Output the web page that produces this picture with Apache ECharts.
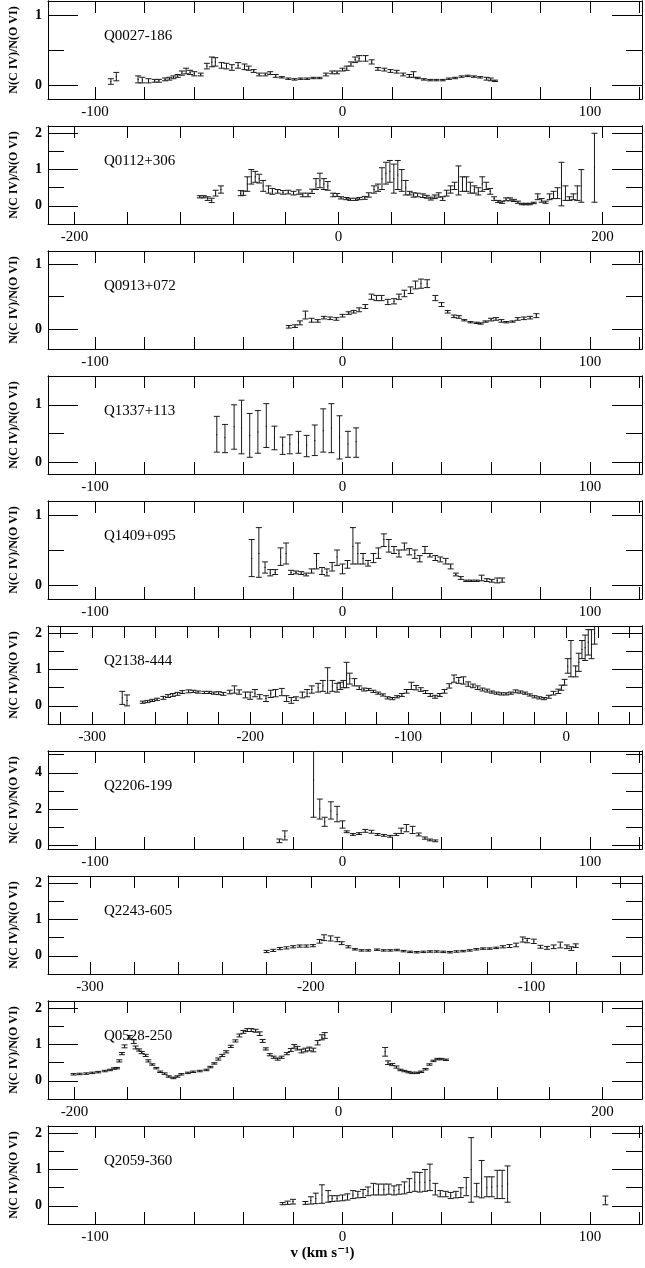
<!DOCTYPE html>
<html lang="en">
<head>
<meta charset="UTF-8">
<title>N(C IV)/N(O VI)</title>
<script src="https://cdn.jsdelivr.net/npm/echarts@6/dist/echarts.min.js"></script>
<style>
  html, body { margin: 0; padding: 0; background: #fff; }
  #chart { width: 645px; height: 1268px; }
</style>
</head>
<body>
<div id="chart"></div>
<script>
// each point: [v, ratio, err] or [v, ratio, low, high]
var q0027 = [
  [-93.6,0.05,0.04],[-91.4,0.12,0.06],[-82.6,0.08,0.05],[-80.9,0.07,0.04],[-78.4,0.06,0.03],[-75.9,0.06,0.02],
  [-74.2,0.06,0.02],[-71.7,0.08,0.02],[-70,0.09,0.02],[-68.3,0.11,0.02],[-66.6,0.13,0.02],[-64.9,0.17,0.03],
  [-63.2,0.2,0.04],[-61.6,0.18,0.03],[-59.9,0.16,0.03],[-57.3,0.15,0.02],[-54.8,0.27,0.04],[-52.8,0.33,0.07],
  [-51.4,0.33,0.06],[-48.9,0.28,0.04],[-46.9,0.27,0.04],[-44.7,0.25,0.04],[-42.2,0.28,0.04],[-39.6,0.26,0.04],
  [-37.9,0.24,0.03],[-35.9,0.2,0.02],[-33.7,0.15,0.02],[-31.2,0.15,0.02],[-29.2,0.17,0.02],[-27,0.13,0.02],
  [-24.5,0.11,0.01],[-21.9,0.09,0.01],[-19.4,0.08,0.01],[-16.9,0.09,0.01],[-14.3,0.09,0.01],[-11.8,0.1,0.01],
  [-9.3,0.1,0.01],[-6.7,0.15,0.02],[-4.2,0.18,0.02],[-2.2,0.18,0.02],[0,0.22,0.02],[1.7,0.24,0.03],
  [3.4,0.3,0.03],[5.1,0.36,0.04],[6.7,0.38,0.04],[9.3,0.38,0.04],[11.8,0.33,0.03],[14.3,0.23,0.02],
  [16.9,0.22,0.02],[19.4,0.2,0.02],[21.9,0.19,0.02],[24.5,0.15,0.02],[27,0.13,0.02],[28.7,0.15,0.04],
  [30.4,0.1,0.01],[32.9,0.08,0.01],[35.4,0.07,0.01],[37.9,0.07,0.01],[40.5,0.07,0.01],[43,0.09,0.01],
  [45.5,0.1,0.01],[48.1,0.12,0.01],[50.6,0.13,0.01],[53.1,0.12,0.01],[55.6,0.11,0.01],[58.2,0.09,0.02],
  [59.9,0.08,0.02],[61.6,0.06,0.01]
];
var q0112 = [
  [-105,0.25,0.03],[-102,0.25,0.03],[-99,0.2,0.05],[-96,0.15,0.06],[-93,0.35,0.08],[-89,0.45,0.1],
  [-74,0.35,0.07],[-72,0.35,0.06],[-69,0.6,0.2],[-66,0.8,0.2],[-63,0.8,0.15],[-60,0.75,0.12],[-57,0.55,0.15],
  [-53,0.45,0.1],[-50,0.4,0.08],[-46,0.4,0.05],[-42,0.37,0.05],[-38,0.38,0.05],[-34,0.35,0.05],[-30,0.38,0.06],
  [-27,0.3,0.05],[-23,0.3,0.05],[-20,0.4,0.06],[-17,0.6,0.15],[-14,0.7,0.2],[-11,0.6,0.15],[-8,0.55,0.12],
  [-4,0.3,0.05],[-1,0.3,0.04],[2,0.22,0.03],[6,0.2,0.03],[9,0.18,0.03],[13,0.18,0.03],[16,0.2,0.03],
  [20,0.22,0.04],[23,0.3,0.06],[27,0.45,0.1],[30,0.5,0.1],[33,0.75,0.3],[36,0.9,0.3],[39,0.95,0.3],
  [42,0.75,0.4],[45,0.85,0.4],[48,0.7,0.3],[51,0.5,0.2],[54,0.35,0.05],[57,0.3,0.06],[60,0.3,0.05],
  [64,0.28,0.05],[67,0.25,0.04],[70,0.2,0.04],[73,0.25,0.05],[76,0.3,0.06],[79,0.2,0.05],[82,0.35,0.08],
  [85,0.45,0.1],[88,0.55,0.1],[91,0.7,0.4],[94,0.6,0.2],[97,0.6,0.2],[100,0.5,0.15],[103,0.45,0.1],
  [106,0.4,0.1],[109,0.6,0.2],[112,0.55,0.1],[115,0.4,0.08],[118,0.2,0.05],[121,0.12,0.03],[124,0.1,0.03],
  [127,0.18,0.04],[130,0.18,0.04],[133,0.15,0.03],[136,0.1,0.03],[139,0.05,0.02],[142,0.05,0.02],
  [145,0.05,0.02],[148,0.08,0.02],[151,0.25,0.08],[154,0.15,0.05],[157,0.1,0.03],[160,0.25,0.08],
  [163,0.3,0.1],[166,0.35,0.15],[169,0.6,0.6],[172,0.35,0.2],[175,0.2,0.05],[178,0.25,0.08],
  [181,0.35,0.2],[184,0.55,0.45],[194,1.05,0.95]
];
var q0913 = [
  [-21.7,0.04,0.02],[-19.2,0.05,0.02],[-17.2,0.1,0.03],[-15,0.22,0.06],[-12.5,0.14,0.03],[-10,0.13,0.02],
  [-7.5,0.18,0.02],[-5,0.17,0.02],[-2.5,0.16,0.02],[0,0.21,0.02],[2.5,0.25,0.02],[4.5,0.27,0.02],
  [6.7,0.3,0.03],[9.2,0.35,0.03],[11.7,0.5,0.04],[13.7,0.48,0.04],[15.8,0.48,0.04],[18.3,0.42,0.04],
  [20.8,0.43,0.04],[22.8,0.5,0.04],[25,0.55,0.05],[27.5,0.6,0.05],[29.5,0.68,0.06],[31.7,0.7,0.07],
  [34.2,0.7,0.06],[37.5,0.48,0.04],[40,0.38,0.03],[42.5,0.27,0.02],[45,0.2,0.02],[47,0.19,0.02],
  [49.2,0.14,0.01],[51.7,0.11,0.01],[54.2,0.1,0.01],[55.8,0.09,0.01],[57.8,0.12,0.01],[60,0.15,0.02],
  [62,0.16,0.02],[64.2,0.13,0.02],[66.2,0.11,0.01],[68.7,0.12,0.01],[70.8,0.16,0.02],[73.3,0.17,0.02],
  [75.8,0.18,0.02],[78.3,0.21,0.03]
];
var q1337 = [
  [-50.8,0.48,0.18,0.8],[-47.5,0.43,0.17,0.66],[-43.8,0.62,0.23,1.0],[-40.8,0.6,0.15,1.08],
  [-37.5,0.47,0.09,0.85],[-34.2,0.53,0.16,0.9],[-30.8,0.63,0.26,1.02],[-27.5,0.43,0.22,0.63],
  [-24.2,0.3,0.14,0.44],[-21.3,0.32,0.15,0.48],[-17.8,0.35,0.16,0.54],[-14.5,0.3,0.1,0.47],
  [-11.2,0.38,0.12,0.65],[-7.8,0.55,0.18,0.93],[-4.5,0.6,0.17,1.02],[-1.2,0.44,0.06,0.81],
  [2.2,0.32,0.09,0.54],[5.5,0.36,0.09,0.6]
];
var q1409 = [
  [-36.7,0.38,0.12,0.65],[-33.8,0.45,0.11,0.82],[-31.3,0.25,0.17,0.33],[-29.2,0.17,0.13,0.22],
  [-27.2,0.18,0.15,0.22],[-25,0.4,0.28,0.53],[-22.8,0.45,0.3,0.6],[-20.8,0.18,0.15,0.21],[-18.8,0.18,0.02],
  [-16.7,0.17,0.02],[-14.7,0.15,0.02],[-12.5,0.2,0.03],[-10.5,0.35,0.23,0.45],[-8.3,0.2,0.15,0.25],
  [-6.3,0.18,0.13,0.23],[-4.2,0.26,0.2,0.32],[-2.2,0.4,0.28,0.5],[0,0.22,0.16,0.3],[2,0.3,0.24,0.35],
  [4.2,0.55,0.3,0.82],[6.2,0.45,0.3,0.6],[8.3,0.38,0.3,0.45],[10.3,0.3,0.27,0.35],[12.5,0.37,0.32,0.45],
  [14.5,0.45,0.38,0.53],[16.7,0.65,0.55,0.73],[18.7,0.55,0.47,0.65],[20.8,0.5,0.45,0.55],[22.8,0.45,0.4,0.5],
  [25,0.55,0.5,0.6],[27,0.5,0.43,0.52],[29.2,0.45,0.38,0.5],[31.2,0.38,0.33,0.42],[33.3,0.5,0.45,0.55],
  [35.3,0.42,0.4,0.45],[37.5,0.38,0.35,0.42],[39.5,0.37,0.33,0.4],[41.7,0.35,0.3,0.38],[43.7,0.27,0.23,0.3],
  [45.8,0.15,0.13,0.17],[47.8,0.1,0.02],[50,0.06,0.01],[52,0.06,0.01],[54.2,0.06,0.01],
  [56.2,0.1,0.06,0.14],[58.3,0.07,0.02],[60.3,0.06,0.02],[62.5,0.06,0.03,0.1],[64.5,0.07,0.03]
];
var q2138 = [
  [-281,0.22,0.18],[-278,0.15,0.15],
  [-268,0.1,0.03],[-265,0.12,0.03],[-262,0.15,0.03],[-259,0.18,0.03],[-255,0.22,0.04],[-252,0.27,0.04],
  [-249,0.3,0.04],[-246,0.33,0.04],[-243,0.38,0.04],[-239,0.4,0.04],[-236,0.4,0.03],[-233,0.38,0.03],
  [-229,0.37,0.03],[-226,0.37,0.03],[-223,0.35,0.03],[-220,0.35,0.04],[-217,0.33,0.04],[-213,0.38,0.05],
  [-210,0.45,0.1],[-207,0.38,0.06],[-203,0.3,0.08],[-200,0.28,0.1],[-197,0.35,0.1],[-194,0.25,0.06],
  [-190,0.2,0.08],[-187,0.33,0.1],[-184,0.35,0.1],[-180,0.38,0.1],[-177,0.2,0.08],[-174,0.15,0.08],
  [-171,0.2,0.05],[-167,0.3,0.08],[-164,0.35,0.1],[-161,0.45,0.1],[-157,0.5,0.12],[-154,0.55,0.15],
  [-151,0.7,0.35],[-148,0.55,0.15],[-145,0.5,0.12],[-143,0.55,0.1],[-141,0.6,0.1],[-139,0.85,0.35],
  [-137,0.75,0.15],[-134,0.65,0.1],[-131,0.5,0.05],[-128,0.45,0.04],[-125,0.45,0.03],[-122,0.4,0.03],
  [-119,0.35,0.03],[-116,0.3,0.03],[-113,0.22,0.03],[-110,0.2,0.03],[-107,0.25,0.03],[-104,0.3,0.04],
  [-101,0.4,0.05],[-98,0.55,0.1],[-95,0.5,0.06],[-92,0.45,0.05],[-89,0.38,0.04],[-86,0.3,0.04],
  [-83,0.25,0.04],[-80,0.3,0.04],[-77,0.4,0.05],[-74,0.55,0.06],[-71,0.75,0.1],[-68,0.7,0.08],
  [-65,0.7,0.1],[-62,0.6,0.06],[-59,0.55,0.05],[-56,0.5,0.05],[-53,0.45,0.04],[-50,0.42,0.04],
  [-47,0.38,0.03],[-44,0.35,0.03],[-41,0.33,0.03],[-38,0.33,0.03],[-35,0.35,0.03],[-32,0.4,0.04],
  [-29,0.38,0.03],[-26,0.35,0.03],[-23,0.3,0.03],[-20,0.25,0.03],[-17,0.22,0.03],[-14,0.2,0.03],
  [-11,0.25,0.04],[-8,0.35,0.05],[-5,0.4,0.06],[-3,0.5,0.07],[-1,0.65,0.08],[1,1.1,0.2],[3,1.3,0.5],
  [6,0.95,0.15],[8,1.2,0.25],[10,1.55,0.25],[12,1.6,0.35],[14,1.75,0.35],[16,1.7,0.4],[18,2.0,0.3]
];
var q2206 = [
  [-25.5,0.25,0.15,0.35],[-23.3,0.5,0.3,0.8],[-11.7,3.6,1.55,5.6],[-9.2,2.0,1.45,2.55],
  [-7.2,1.3,1.05,1.55],[-4.7,1.9,1.45,2.4],[-2.2,1.7,1.3,2.15],[0,1.1,0.95,1.35],[1.7,0.75,0.7,0.8],
  [4.2,0.6,0.05],[6.7,0.65,0.05],[9.2,0.8,0.08],[11.7,0.75,0.08],[14.2,0.6,0.05],[16.7,0.55,0.05],
  [19.2,0.5,0.05],[21.7,0.6,0.06],[23.7,0.8,0.65,0.95],[25.8,0.95,0.75,1.15],[28.3,0.85,0.65,1.05],
  [30.8,0.6,0.08],[33.3,0.4,0.06],[35.3,0.3,0.05],[37.5,0.25,0.05]
];
var q2243 = [
  [-220,0.12,0.03],[-217,0.15,0.03],[-214,0.2,0.03],[-211,0.22,0.03],[-208,0.25,0.03],[-205,0.27,0.03],
  [-202,0.27,0.03],[-199,0.28,0.03],[-196,0.4,0.05],[-194,0.5,0.08],[-191,0.48,0.07],[-188,0.45,0.06],
  [-186,0.35,0.04],[-183,0.25,0.03],[-180,0.18,0.02],[-177,0.15,0.02],[-174,0.15,0.02],[-170,0.17,0.02],
  [-167,0.15,0.02],[-164,0.15,0.02],[-161,0.16,0.02],[-158,0.13,0.02],[-155,0.11,0.02],[-152,0.1,0.02],
  [-149,0.11,0.02],[-146,0.12,0.02],[-143,0.12,0.02],[-140,0.11,0.02],[-137,0.1,0.02],[-134,0.12,0.02],
  [-131,0.13,0.02],[-128,0.15,0.02],[-125,0.18,0.02],[-122,0.2,0.02],[-119,0.2,0.02],[-116,0.22,0.02],
  [-113,0.25,0.03],[-110,0.27,0.04],[-107,0.3,0.05],[-104,0.45,0.07],[-102,0.42,0.06],[-99,0.4,0.06],
  [-96,0.25,0.04],[-93,0.22,0.04],[-90,0.25,0.05],[-87,0.3,0.08],[-84,0.25,0.05],[-82,0.2,0.05],[-80,0.28,0.05]
];
var q0528 = [
  [-200.6,0.18,0.02],[-196,0.19,0.02],[-191,0.2,0.02],[-186.5,0.22,0.02],[-182,0.24,0.02],[-177,0.27,0.02],
  [-173,0.3,0.02],[-170,0.34,0.02],[-167.7,0.35,0.02],[-166,0.55,0.03],[-164,0.75,0.03],[-162,0.95,0.04],
  [-158,1.2,0.05],[-155,1.08,0.05],[-153.6,0.92,0.04],[-151,0.85,0.03],[-149,0.78,0.03],[-146,0.7,0.03],
  [-144,0.55,0.03],[-141,0.45,0.02],[-138,0.35,0.02],[-135,0.25,0.02],[-131.7,0.2,0.02],[-128.5,0.12,0.02],
  [-125,0.08,0.02],[-122,0.12,0.02],[-119,0.18,0.02],[-114,0.22,0.02],[-110,0.25,0.02],[-105,0.27,0.02],
  [-100,0.3,0.02],[-97,0.38,0.02],[-94,0.48,0.02],[-91,0.6,0.03],[-88,0.7,0.03],[-85,0.8,0.03],
  [-81.5,0.95,0.03],[-78,1.1,0.03],[-75,1.25,0.04],[-72,1.35,0.04],[-69,1.4,0.04],[-66,1.4,0.04],
  [-62.7,1.38,0.04],[-59.6,1.3,0.05],[-57.4,1.1,0.04],[-55,0.88,0.03],[-52,0.72,0.03],[-49,0.65,0.03],
  [-46,0.6,0.03],[-43,0.65,0.03],[-39,0.75,0.03],[-36,0.85,0.04],[-33.5,0.95,0.05],[-31,0.9,0.05],
  [-28,0.82,0.05],[-25,0.85,0.05],[-22,0.88,0.05],[-19,0.85,0.05],[-15.7,1.05,0.06],[-12.5,1.2,0.07],
  [-10.3,1.25,0.08],
  [35.4,0.8,0.12],[37.6,0.5,0.05],[40.8,0.45,0.03],[44,0.38,0.03],[47,0.3,0.02],[50,0.27,0.02],
  [53,0.24,0.02],[56,0.22,0.02],[59.6,0.22,0.02],[62.7,0.25,0.02],[66,0.32,0.02],[69,0.45,0.02],
  [72,0.55,0.02],[75,0.6,0.02],[78,0.6,0.02],[81.5,0.58,0.02]
];
var q2059 = [
  [-24.2,0.05,0.03,0.09],[-22.2,0.08,0.04,0.13],[-20,0.12,0.05,0.18],[-15,0.08,0.04,0.12],
  [-12.8,0.15,0.05,0.25],[-10.8,0.2,0.06,0.35],[-8.3,0.3,0.07,0.58],[-5.8,0.25,0.1,0.42],
  [-4.2,0.2,0.12,0.28],[-2.2,0.2,0.13,0.28],[0,0.22,0.14,0.3],[2,0.25,0.16,0.33],[4.2,0.3,0.2,0.42],
  [6.2,0.32,0.22,0.4],[8.3,0.33,0.23,0.45],[10.3,0.4,0.28,0.52],[12.5,0.45,0.3,0.62],[14.5,0.45,0.3,0.6],
  [16.7,0.45,0.3,0.6],[18.7,0.47,0.32,0.6],[20.8,0.42,0.3,0.55],[22.8,0.45,0.32,0.58],[25,0.5,0.33,0.66],
  [27,0.55,0.37,0.75],[29.2,0.65,0.4,0.93],[31.2,0.65,0.38,0.92],[33.3,0.65,0.4,1.0],[35.3,0.7,0.42,1.15],
  [37.5,0.4,0.3,0.62],[39.5,0.33,0.25,0.42],[41.7,0.32,0.25,0.4],[43.7,0.28,0.2,0.37],[45.8,0.3,0.22,0.4],
  [47.8,0.35,0.23,0.5],[50,0.5,0.28,0.78],[52,1.0,0.1,1.88],[54.2,0.4,0.25,0.62],[56.2,0.75,0.22,1.25],
  [58.3,0.5,0.25,0.8],[60.3,0.52,0.25,0.8],[62.5,0.55,0.2,0.98],[64.5,0.55,0.2,0.98],[66.7,0.6,0.1,1.1],
  [106.2,0.15,0.03,0.27]
];

var names = ['Q0027-186','Q0112+306','Q0913+072','Q1337+113','Q1409+095','Q2138-444','Q2206-199','Q2243-605','Q0528-250','Q2059-360'];
var sets = [q0027, q0112, q0913, q1337, q1409, q2138, q2206, q2243, q0528, q2059];
var xRanges = [[-119,121],[-220,230],[-119,121],[-119,121],[-119,121],[-328,48],[-119,121],[-319,-50],[-220,230],[-119,121]];
var xLabelTicks = [[-100,0,100],[-200,0,200],[-100,0,100],[-100,0,100],[-100,0,100],[-300,-200,-100,0],[-100,0,100],[-300,-200,-100],[-200,0,200],[-100,0,100]];
var xTickStep = [20,40,20,20,20,20,20,20,40,20];
var yRanges = [[-0.2,1.2],[-0.5,2.2],[-0.3,1.2],[-0.2,1.5],[-0.2,1.2],[-0.5,2.2],[-0.2,5.2],[-0.5,2.2],[-0.5,2.2],[-0.5,2.2]];
var yMajor = [[0,1],[0,1,2],[0,1],[0,1],[0,1],[0,1,2],[0,2,4],[0,1,2],[0,1,2],[0,1,2]];
var yMinor = [[0.5],[0.5,1.5],[0.5],[0.5],[0.5],[0.5,1.5],[1,3,5],[0.5,1.5],[0.5,1.5],[0.5,1.5]];

var FONT = '"Liberation Serif", "DejaVu Serif", serif';
var grids = [], xAxes = [], yAxes = [], series = [], graphics = [];

function stepTicks(range, step) {
  var out = [];
  for (var v = Math.ceil(range[0] / step) * step; v <= range[1]; v += step) out.push(v);
  return out;
}

function xAxisOf(i, pos, withLabels) {
  return {
    gridIndex: i, type: 'value', position: pos,
    min: xRanges[i][0], max: xRanges[i][1],
    splitLine: { show: false },
    axisLine: { show: true, onZero: false, lineStyle: { color: '#000', width: 1 } },
    axisTick: { show: true, inside: true, length: 12, customValues: stepTicks(xRanges[i], xTickStep[i]), lineStyle: { color: '#000' } },
    axisLabel: withLabels
      ? { customValues: xLabelTicks[i].slice(), color: '#000', fontFamily: FONT, fontSize: 15, margin: 6 }
      : { show: false }
  };
}

function yAxisOf(i, pos, ticks, len) {
  return {
    gridIndex: i, type: 'value', position: pos,
    min: yRanges[i][0], max: yRanges[i][1],
    splitLine: { show: false },
    axisLine: { show: true, onZero: false, lineStyle: { color: '#000', width: 1 } },
    axisTick: { show: true, inside: true, length: len, customValues: ticks.slice(), lineStyle: { color: '#000' } },
    axisLabel: { show: false }
  };
}

function renderBar(params, api) {
  var x = api.value(0);
  var c = api.coord([x, api.value(1)]);
  var lo = api.coord([x, api.value(2)]);
  var hi = api.coord([x, api.value(3)]);
  var w = 3;
  return {
    type: 'group',
    children: [
      { type: 'line', shape: { x1: lo[0], y1: lo[1], x2: hi[0], y2: hi[1] }, style: { stroke: '#1a1a1a', lineWidth: 1 } },
      { type: 'line', shape: { x1: lo[0] - w, y1: lo[1], x2: lo[0] + w, y2: lo[1] }, style: { stroke: '#1a1a1a', lineWidth: 1 } },
      { type: 'line', shape: { x1: hi[0] - w, y1: hi[1], x2: hi[0] + w, y2: hi[1] }, style: { stroke: '#1a1a1a', lineWidth: 1 } },
      { type: 'rect', shape: { x: c[0] - 0.5, y: c[1] - 0.5, width: 1, height: 1 }, style: { fill: '#000' } }
    ]
  };
}

for (var i = 0; i < sets.length; i++) {
  var panelTop = 1 + 125 * i;
  grids.push({ left: 47, right: 3, top: panelTop, height: 98 });
  xAxes.push(xAxisOf(i, 'bottom', true));
  xAxes.push(xAxisOf(i, 'top', false));

  var yFirst = yAxes.length;
  var yl = yAxisOf(i, 'left', yMajor[i], 30);
  yl.axisLabel = { customValues: yMajor[i].slice(), color: '#000', fontFamily: FONT, fontSize: 14, fontWeight: 'bold', margin: 6 };
  yl.name = 'N(C IV)/N(O VI)';
  yl.nameLocation = 'middle';
  yl.nameRotate = 90;
  yl.nameGap = 28;
  yl.nameTextStyle = { color: '#000', fontFamily: FONT, fontSize: 12, fontWeight: 'bold' };
  yAxes.push(yl);
  yAxes.push(yAxisOf(i, 'left', yMinor[i], 16));
  yAxes.push(yAxisOf(i, 'right', yMajor[i], 30));
  yAxes.push(yAxisOf(i, 'right', yMinor[i], 16));

  var rows = sets[i].map(function (p) {
    return p.length === 3 ? [p[0], p[1], p[1] - p[2], p[1] + p[2]] : p.slice();
  });
  series.push({
    type: 'custom',
    xAxisIndex: 2 * i,
    yAxisIndex: yFirst,
    clip: true,
    data: rows,
    renderItem: renderBar
  });

  graphics.push({
    type: 'text', left: 104, top: panelTop + 28, z: 10,
    style: { text: names[i], fill: '#000', font: '15px ' + FONT }
  });
}

graphics.push({
  type: 'text', left: 'center', top: 1246,
  style: { text: 'v (km s\u207b\u00b9)', fill: '#000', font: 'bold 15px ' + FONT }
});

var myChart = echarts.init(document.getElementById('chart'));
myChart.setOption({
  animation: false,
  backgroundColor: '#fff',
  grid: grids,
  xAxis: xAxes,
  yAxis: yAxes,
  series: series,
  graphic: graphics
});
</script>
</body>
</html>
